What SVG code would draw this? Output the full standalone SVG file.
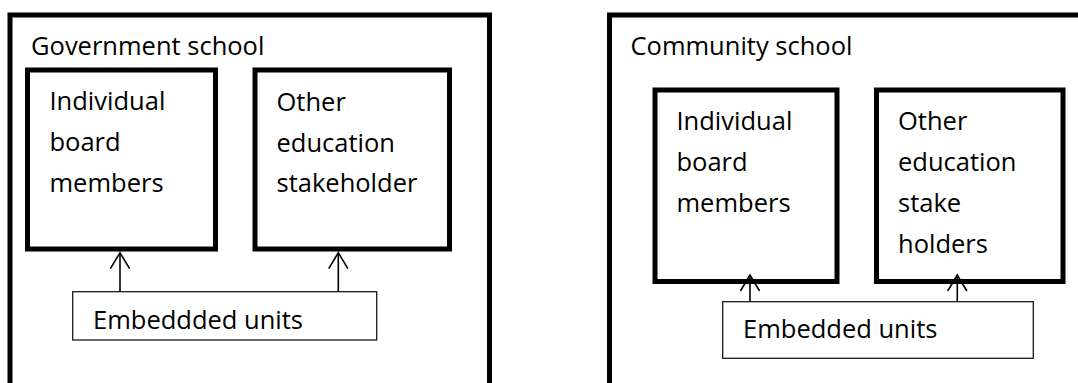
<svg xmlns="http://www.w3.org/2000/svg" width="1078" height="383" viewBox="0 0 1078 383">
  <style>
    .panel { fill: #ffffff; stroke: #000000; stroke-width: 5; }
    .box { fill: #ffffff; stroke: #000000; stroke-width: 5; }
    .unit { fill: #ffffff; stroke: #1a1a1a; stroke-width: 1.3; }
    .conn { fill: none; stroke: #000000; stroke-width: 1.6; marker-end: url(#open); }
    text { font-family: "Open Sans", "Liberation Sans", sans-serif; font-size: 25.5px; fill: #000000; }
  </style>
  <defs>
    <marker id="open" markerUnits="userSpaceOnUse" viewBox="-18 -12 20 24" refX="0" refY="0" markerWidth="20" markerHeight="24" orient="auto">
      <path d="M-16,-9.6 L0,0 L-16,9.6" fill="none" stroke="#000000" stroke-width="1.6"/>
    </marker>
  </defs>
  <rect width="1078" height="383" fill="#ffffff"/>

  <g id="government-school">
    <rect class="panel" x="10" y="15" width="479.5" height="400"/>
    <text x="31" y="55">Government school</text>
  </g>
  <g id="gov-board-members">
    <rect class="box" x="27.5" y="70" width="188" height="179"/>
    <text x="49.5" y="110">Individual</text>
    <text x="49.5" y="151">board</text>
    <text x="49.5" y="192">members</text>
  </g>
  <g id="gov-other-stakeholder">
    <rect class="box" x="255" y="70" width="194.5" height="179"/>
    <text x="276.5" y="110.5">Other</text>
    <text x="276.5" y="151.5">education</text>
    <text x="276.5" y="192">stakeholder</text>
  </g>
  <g id="gov-embedded-units">
    <rect class="unit" x="72.7" y="291.7" width="304" height="48.3"/>
    <text x="93" y="329.3">Embeddded units</text>
  </g>

  <g id="community-school">
    <rect class="panel" x="609.5" y="15" width="500" height="400"/>
    <text x="630.5" y="55">Community school</text>
  </g>
  <g id="com-board-members">
    <rect class="box" x="655" y="90" width="182" height="191.5"/>
    <text x="676.5" y="129.5">Individual</text>
    <text x="676.5" y="170.5">board</text>
    <text x="676.5" y="211.5">members</text>
  </g>
  <g id="com-other-stakeholders">
    <rect class="box" x="876.5" y="90" width="186.5" height="191.5"/>
    <text x="898" y="129.5">Other</text>
    <text x="898" y="170.5">education</text>
    <text x="898" y="211.5">stake</text>
    <text x="898" y="253">holders</text>
  </g>
  <g id="com-embedded-units">
    <rect class="unit" x="722.7" y="301.7" width="310.6" height="56.6"/>
    <text x="743" y="338.3">Embedded units</text>
  </g>

  <g id="connectors">
    <line class="conn" x1="120" y1="291.7" x2="120" y2="252.7"/>
    <line class="conn" x1="338.3" y1="291.7" x2="338.3" y2="252.7"/>
    <line class="conn" x1="750" y1="301.7" x2="750" y2="275"/>
    <line class="conn" x1="957.3" y1="301.7" x2="957.3" y2="275"/>
  </g>
</svg>
